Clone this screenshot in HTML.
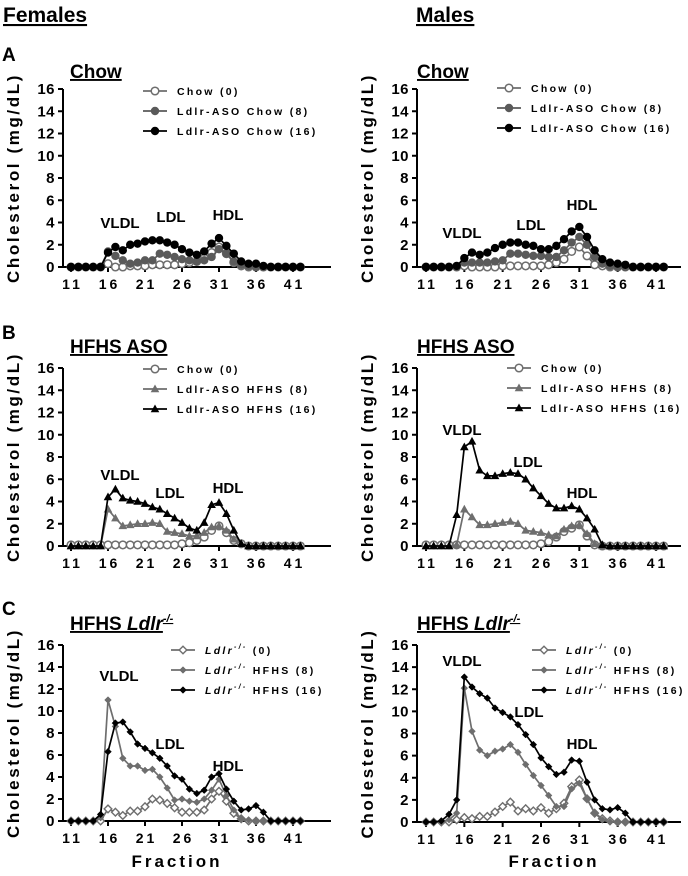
<!DOCTYPE html>
<html><head><meta charset="utf-8"><style>
body{margin:0;background:#fff}
svg{display:block;font-family:"Liberation Sans",Arial,sans-serif;font-weight:bold}
</style></head><body>
<svg id="fig" width="688" height="876" viewBox="0 0 688 876">
<text x="3" y="22" font-size="21" text-decoration="underline">Females</text>
<text x="416" y="22" font-size="21" text-decoration="underline">Males</text>
<text x="2" y="61" font-size="19">A</text>
<text x="2" y="339" font-size="19">B</text>
<text x="2" y="615" font-size="19">C</text>
</svg>
<script>
const fractions=[11,12,13,14,15,16,17,18,19,20,21,22,23,24,25,26,27,28,29,30,31,32,33,34,35,36,37,38,39,40,41,42];
const xTicks=[11,16,21,26,31,36,41];
const yTicks=[0,2,4,6,8,10,12,14,16];
// Panel A Females Chow
const aF0=[0,0,0,0,0,0.3,0,0,0.1,0.1,0.1,0.2,0.2,0.2,0.2,0.3,0.4,0.5,0.8,1.3,1.8,1.2,0.4,0.1,0,0,0,0,0,0,0,0];
const aF8=[0,0,0,0,0,1.4,1.0,0.6,0.3,0.4,0.6,0.6,1.2,1.1,0.9,0.7,0.6,0.5,0.6,0.9,1.6,1.2,0.5,0.2,0.1,0,0,0,0,0,0,0];
const aF16=[0,0,0,0,0,1.3,1.8,1.5,2.0,2.1,2.3,2.4,2.4,2.2,2.0,1.6,1.3,1.1,1.4,2.1,2.6,1.9,1.2,0.5,0.3,0.3,0.1,0,0,0,0,0];
// Panel A Males Chow
const aM0=[0,0,0,0,0,0.1,0,0,0,0,0.1,0.1,0.1,0.1,0.1,0.1,0.2,0.4,0.7,1.4,1.8,1.0,0.2,0.1,0,0,0,0,0,0,0,0];
const aM8=[0,0,0,0,0,0.4,0.4,0.4,0.4,0.5,0.6,1.2,1.2,1.1,1.0,1.0,0.9,0.9,1.5,2.2,2.7,2.0,0.9,0.3,0.1,0,0,0,0,0,0,0];
const aM16=[0,0,0,0,0.1,0.8,1.3,1.1,1.3,1.7,2.0,2.2,2.2,2.0,1.9,1.6,1.6,1.9,2.5,3.2,3.6,2.7,1.5,0.7,0.4,0.3,0.2,0,0,0,0,0];
// Panel B Females HFHS ASO
const bF0=[0.1,0.1,0.1,0.1,0.1,0.1,0.1,0.1,0.1,0.1,0.1,0.1,0.1,0.1,0.1,0.2,0.3,0.5,0.8,1.4,1.8,1.2,0.5,0.2,0,0,0,0,0,0,0,0];
const bF8=[0,0,0,0,0,3.3,2.5,1.8,1.9,2.0,2.0,2.1,2.0,1.3,1.2,1.1,0.9,0.9,1.2,1.7,1.8,1.4,0.6,0.2,0,0,0,0,0,0,0,0];
const bF16=[0,0,0,0,0,4.4,5.1,4.3,4.1,4.0,3.8,3.5,3.3,2.9,2.5,2.1,1.6,1.4,2.1,3.7,3.9,2.9,1.4,0.2,0,0,0,0,0,0,0,0];
// Panel B Males HFHS ASO
const bM0=[0.1,0.1,0.1,0.1,0.1,0.1,0.1,0.1,0.1,0.1,0.1,0.1,0.1,0.1,0.1,0.2,0.4,0.8,1.3,1.6,1.9,0.9,0.1,0,0,0,0,0,0,0,0,0];
const bM8=[0,0,0,0,0.1,3.3,2.6,1.9,1.9,2.0,2.1,2.2,2.0,1.4,1.3,1.2,1.0,0.9,1.5,1.8,1.9,1.1,0.2,0,0,0,0,0,0,0,0,0];
const bM16=[0,0,0,0,2.8,8.9,9.4,6.8,6.3,6.3,6.5,6.6,6.5,6.0,5.2,4.5,3.8,3.4,3.4,3.6,3.3,2.5,1.5,0.1,0,0,0,0,0,0,0,0];
// Panel C Females HFHS Ldlr-/-
const cF0=[0,0,0,0,0,1.1,0.8,0.5,0.9,0.9,1.3,2.0,1.9,1.6,1.2,0.8,0.8,0.8,1.0,2.0,2.7,1.8,0.7,0.2,0,0,0,0,0,0,0,0];
const cF8=[0,0,0,0,0.3,11,8.6,5.7,5.0,5.0,4.6,4.7,4.0,3.0,1.9,2.0,1.8,1.7,2.0,2.8,3.8,2.3,1.0,0.2,0.1,0,0,0,0,0,0,0];
const cF16=[0,0,0,0,0.6,6.3,8.9,9.0,8.1,7.0,6.6,6.2,5.7,5.0,4.1,3.8,2.9,2.5,2.8,4.0,4.3,2.9,1.8,1.0,1.1,1.4,0.8,0,0,0,0,0];
// Panel C Males HFHS Ldlr-/-
const cM0=[0,0,0,0,0.2,0.4,0.3,0.5,0.5,0.9,1.4,1.8,1.0,1.2,1.0,1.3,0.8,1.2,1.7,3.2,3.8,2.1,0.8,0.3,0.1,0,0,0,0,0,0,0];
const cM8=[0,0,0,0.2,0.8,12.1,8.2,6.5,6.0,6.4,6.6,7.0,6.3,5.2,4.2,3.3,2.4,1.4,1.4,3.0,3.5,2.1,0.8,0.2,0,0,0,0,0,0,0,0];
const cM16=[0,0,0.1,0.7,2.0,13.1,12.2,11.6,11.2,10.3,9.9,9.5,8.8,7.9,7.0,5.8,5.0,4.3,4.5,5.6,5.5,3.6,2.0,1.2,1.1,1.3,0.8,0,0,0,0,0];

const NS='http://www.w3.org/2000/svg';
const svg=document.getElementById('fig');
function mk(tag,attrs,parent){const e=document.createElementNS(NS,tag);for(const k in attrs)e.setAttribute(k,attrs[k]);(parent||svg).appendChild(e);return e;}
const GRAY='#5a5a5a',LGRAY='#6e6e6e';

function marker(g,shape,x,y,color,open){
  let e;
  if(shape==='circle'){e=mk('circle',{cx:x,cy:y,r:3.8,fill:open?'#fff':color,stroke:color,'stroke-width':open?1.5:0.8},g);}
  else if(shape==='tri'){e=mk('path',{d:`M${x},${y-4.5}L${x+4.3},${y+3.2}L${x-4.3},${y+3.2}Z`,fill:color},g);}
  else {const r=open?3.8:3.4;e=mk('path',{d:`M${x},${y-r}L${x+r},${y}L${x},${y+r}L${x-r},${y}Z`,fill:open?'#fff':color,stroke:color,'stroke-width':open?1.4:0.5},g);}
  return e;
}

function panel(p){
  const g=mk('g',{});
  
  
  const xs=v=>p.x11+(v-11)*(p.x41-p.x11)/30;
  const ys=v=>p.y0-(v)*(p.y0-p.y16)/16;
  const t=mk('text',{x:p.tx,y:p.ty,'font-size':19,'text-decoration':'underline'},g);
  
  
  if(p.italic){t.textContent='HFHS ';const ts=mk('tspan',{'font-style':'italic'},t);ts.textContent='Ldlr';const sup=mk('tspan',{'font-style':'italic','font-size':11,dy:-8},t);sup.textContent='-/-';}
  else t.textContent=p.title;
  const ax=mk('path',{d:`M${p.ax},${p.y16}V${p.y0}H${p.xend}`,stroke:'#000','stroke-width':2,fill:'none'},g);
  
  
  yTicks.forEach(v=>{
    mk('line',{x1:p.ax-5,x2:p.ax,y1:ys(v),y2:ys(v),stroke:'#000','stroke-width':2},g);
    const l=mk('text',{x:p.ax-8,y:ys(v)+5,'font-size':15,'text-anchor':'end','letter-spacing':'0.5'},g);
    
    
    l.textContent=v;
  });
  xTicks.forEach(v=>{
    mk('line',{x1:xs(v),x2:xs(v),y1:p.y0,y2:p.y0+5,stroke:'#000','stroke-width':2},g);
    const l=mk('text',{x:xs(v)+1.5,y:p.y0+22,'font-size':14,'text-anchor':'middle','letter-spacing':'3'},g);
    
    
    l.textContent=v;
  });
  const yl=mk('text',{transform:`translate(${p.ax-44},${(p.y0+p.y16)/2}) rotate(-90)`,'font-size':17,'text-anchor':'middle','letter-spacing':'2.6'},g);
  
  
  yl.textContent='Cholesterol (mg/dL)';
  if(p.fraction){
    const fl=mk('text',{x:p.fx,y:867,'font-size':17,'text-anchor':'middle','letter-spacing':'3'},g);
    
    
    fl.textContent='Fraction';
  }
  p.series.forEach((s,si)=>{
    const sg=mk('g',{},g);
    
    
    const d=fractions.map((f,i)=>(i?'L':'M')+xs(f).toFixed(1)+','+ys(s.data[i]).toFixed(1)).join('');
    mk('path',{d:d,stroke:s.color,'stroke-width':1.7,fill:'none'},sg);
    fractions.forEach((f,i)=>{const m=marker(sg,s.shape,xs(f),ys(s.data[i]),s.color,s.open);
      
      });
    const ly=p.ly+si*20;
    const lg=mk('g',{},g);
    
    
    mk('line',{x1:p.lx-12,x2:p.lx+12,y1:ly,y2:ly,stroke:s.color,'stroke-width':1.8},lg);
    marker(lg,s.shape,p.lx,ly,s.color,s.open);
    const lt=mk('text',{x:p.lx+22,y:ly+4,'font-size':10.5,'letter-spacing':'2.3'},lg);
    if(s.ital){const a=mk('tspan',{'font-style':'italic'},lt);a.textContent='Ldlr';const b=mk('tspan',{'font-style':'italic','font-size':7,dy:-5},lt);b.textContent='-/-';const c=mk('tspan',{dy:5},lt);c.textContent=' '+s.label;}
    else lt.textContent=s.label;
  });
  p.peaks.forEach(([txt,x,y])=>{
    const pt=mk('text',{x:x,y:y,'font-size':15,'text-anchor':'middle'},g);
    
    
    pt.textContent=txt;
  });
}
const L={x11:71,x41:293,ax:63,xend:331};
const R={x11:426,x41:656,ax:417,xend:681};
panel(Object.assign({},L,{name:'females-chow-chart',y0:267,y16:89,tx:70,ty:78,title:'Chow',lx:155,ly:91,
 series:[{key:'chow-0',data:aF0,color:LGRAY,shape:'circle',open:true,label:'Chow (0)'},{key:'chow-8',data:aF8,color:GRAY,shape:'circle',label:'Ldlr-ASO Chow (8)'},{key:'chow-16',data:aF16,color:'#000',shape:'circle',label:'Ldlr-ASO Chow (16)'}],
 peaks:[['VLDL',120,228],['LDL',171,222],['HDL',228,220]]}));
panel(Object.assign({},R,{name:'males-chow-chart',y0:267,y16:89,tx:417,ty:78,title:'Chow',lx:509,ly:88,
 series:[{key:'chow-0',data:aM0,color:LGRAY,shape:'circle',open:true,label:'Chow (0)'},{key:'chow-8',data:aM8,color:GRAY,shape:'circle',label:'Ldlr-ASO Chow (8)'},{key:'chow-16',data:aM16,color:'#000',shape:'circle',label:'Ldlr-ASO Chow (16)'}],
 peaks:[['VLDL',462,238],['LDL',531,230],['HDL',582,210]]}));
panel(Object.assign({},L,{name:'females-hfhs-aso-chart',y0:546,y16:368,tx:70,ty:353,title:'HFHS ASO',lx:155,ly:369,
 series:[{key:'chow-0',data:bF0,color:LGRAY,shape:'circle',open:true,label:'Chow (0)'},{key:'hfhs-8',data:bF8,color:LGRAY,shape:'tri',label:'Ldlr-ASO HFHS (8)'},{key:'hfhs-16',data:bF16,color:'#000',shape:'tri',label:'Ldlr-ASO HFHS (16)'}],
 peaks:[['VLDL',120,480],['LDL',170,498],['HDL',228,493]]}));
panel(Object.assign({},R,{name:'males-hfhs-aso-chart',y0:546,y16:368,tx:417,ty:353,title:'HFHS ASO',lx:519,ly:368,
 series:[{key:'chow-0',data:bM0,color:LGRAY,shape:'circle',open:true,label:'Chow (0)'},{key:'hfhs-8',data:bM8,color:LGRAY,shape:'tri',label:'Ldlr-ASO HFHS (8)'},{key:'hfhs-16',data:bM16,color:'#000',shape:'tri',label:'Ldlr-ASO HFHS (16)'}],
 peaks:[['VLDL',462,435],['LDL',528,467],['HDL',582,498]]}));
panel(Object.assign({},L,{name:'females-hfhs-ldlr-chart',y0:821,y16:645,tx:70,ty:630,italic:true,lx:183,ly:650,fraction:true,fx:177,
 series:[{key:'ldlr-0',data:cF0,color:LGRAY,shape:'diamond',open:true,ital:true,label:'(0)'},{key:'ldlr-8',data:cF8,color:LGRAY,shape:'diamond',ital:true,label:'HFHS (8)'},{key:'ldlr-16',data:cF16,color:'#000',shape:'diamond',ital:true,label:'HFHS (16)'}],
 peaks:[['VLDL',119,681],['LDL',170,749],['HDL',228,771]]}));
panel(Object.assign({},R,{name:'males-hfhs-ldlr-chart',y0:822,y16:645,tx:417,ty:630,italic:true,lx:544,ly:650,fraction:true,fx:554,
 series:[{key:'ldlr-0',data:cM0,color:LGRAY,shape:'diamond',open:true,ital:true,label:'(0)'},{key:'ldlr-8',data:cM8,color:LGRAY,shape:'diamond',ital:true,label:'HFHS (8)'},{key:'ldlr-16',data:cM16,color:'#000',shape:'diamond',ital:true,label:'HFHS (16)'}],
 peaks:[['VLDL',462,666],['LDL',529,717],['HDL',582,749]]}));
</script>
</body></html>
